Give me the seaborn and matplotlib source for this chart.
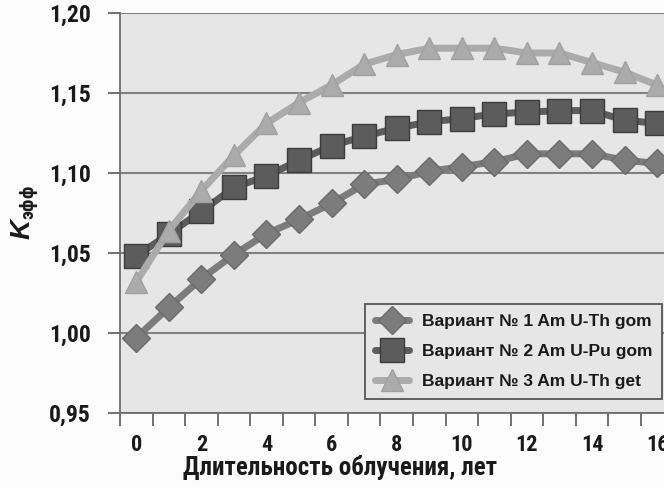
import matplotlib
matplotlib.use("Agg")
import matplotlib.pyplot as plt
import seaborn as sns
import numpy as np
import pandas as pd
from matplotlib.ticker import FixedLocator, FuncFormatter

years = list(range(17))
var1 = [0.997, 1.016, 1.034, 1.049, 1.062, 1.071, 1.081, 1.093, 1.096, 1.101,
        1.104, 1.107, 1.112, 1.112, 1.112, 1.108, 1.106]
var2 = [1.048, 1.062, 1.076, 1.091, 1.098, 1.108, 1.117, 1.123, 1.128, 1.132,
        1.134, 1.137, 1.138, 1.139, 1.139, 1.133, 1.131]
var3 = [1.032, 1.064, 1.089, 1.111, 1.131, 1.144, 1.155, 1.168, 1.174, 1.178,
        1.178, 1.178, 1.175, 1.175, 1.169, 1.163, 1.155]
labels = ["Вариант № 1 Am U-Th gom", "Вариант № 2 Am U-Pu gom", "Вариант № 3 Am U-Th get"]
x_ticks = [0, 2, 4, 6, 8, 10, 12, 14, 16]
y_ticks = [0.95, 1.00, 1.05, 1.10, 1.15, 1.20]
x_label = "Длительность облучения, лет"

sns.set_theme(style="white")
COND = ['Roboto Condensed', 'PT Sans Narrow', 'Liberation Sans', 'DejaVu Sans']
plt.rcParams['font.family'] = COND
plt.rcParams['mathtext.fontset'] = 'custom'
plt.rcParams['mathtext.rm'] = 'Roboto Condensed:bold'
plt.rcParams['mathtext.it'] = 'Liberation Sans:italic:bold'
plt.rcParams['mathtext.bf'] = 'Roboto Condensed:bold'

fig = plt.figure(figsize=(6.64, 4.87), dpi=100)
fig.patch.set_facecolor('#fcfcfc')
ax = fig.add_axes([120/664, 1-413/487, 544/664, 400/487])
ax.set_facecolor('#e6e6e6')

styles = [
    dict(marker='D', color='#7c7c7c', mec='#6a6a6a', ms=14),
    dict(marker='s', color='#5c5c5c', mec='#3c3c3c', ms=17),
    dict(marker='^', color='#ababab', mec='#a0a0a0', ms=16),
]
for vals, lab, st in zip([var1, var2, var3], labels, styles):
    sns.lineplot(x=years, y=vals, ax=ax, label=lab, color=st['color'],
                 marker=st['marker'], markersize=st['ms'], markeredgecolor=st['mec'],
                 markeredgewidth=1, linewidth=5, zorder=3)

ax.set_xlim(-0.5, 16.21)
ax.set_ylim(0.95, 1.20)

ax.yaxis.set_major_locator(FixedLocator(y_ticks))
ax.yaxis.set_major_formatter(FuncFormatter(lambda v, p: f"{v:.2f}".replace('.', ',')))
ax.xaxis.set_major_locator(FixedLocator(x_ticks))
ax.xaxis.set_minor_locator(FixedLocator(np.arange(-0.5, 16.6, 1.0)))
ax.tick_params(axis='x', which='major', length=0, pad=15, labelsize=16)
ax.tick_params(axis='x', which='minor', length=9, width=1.3, color='#666666', direction='out', bottom=True)
ax.tick_params(axis='y', which='major', length=9, width=1.3, color='#666666', direction='out', left=True, pad=12, labelsize=17)
for lab in ax.get_xticklabels() + ax.get_yticklabels():
    lab.set_fontweight('bold')
    lab.set_color('#1a1a1a')

ax.grid(axis='y', color='#808080', linewidth=1.5, zorder=1)
ax.grid(axis='x', visible=False)
ax.set_axisbelow(True)
for s in ['top', 'right']:
    ax.spines[s].set_visible(False)
ax.spines['left'].set_color('#6e6e6e')
ax.spines['left'].set_linewidth(1.3)
ax.spines['bottom'].set_color('#6e6e6e')
ax.spines['bottom'].set_linewidth(1.3)

ax.set_xlabel(x_label, fontsize=18, fontweight='bold', color='#1a1a1a', labelpad=1)
ax.xaxis.set_label_coords(0.404, -0.105)
ax.xaxis.label.set_va('top')
ax.set_ylabel(r'$\mathit{K}_{\mathrm{эфф}}$', fontsize=20, color='#1a1a1a', labelpad=6)

leg = ax.legend(loc='lower right', bbox_to_anchor=(0.997, 0.035), frameon=True,
                prop={'family': ['Liberation Sans', 'DejaVu Sans'], 'weight': 'bold', 'size': 12.5},
                handlelength=2.0, borderpad=0.55, labelspacing=0.88, handletextpad=0.75,
                borderaxespad=0, fancybox=False, framealpha=1)
leg.get_frame().set_facecolor('#e6e6e6')
leg.get_frame().set_edgecolor('#555555')
leg.get_frame().set_linewidth(1.3)
for t in leg.get_texts():
    t.set_color('#1a1a1a')

fig.savefig('out.png', dpi=100)
